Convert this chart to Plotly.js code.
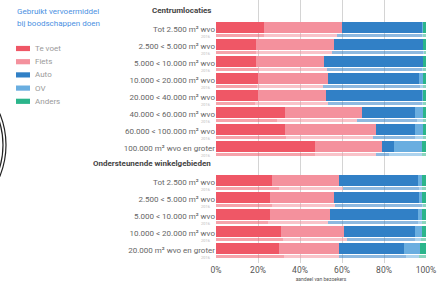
<!DOCTYPE html>
<html>
<head>
<meta charset="utf-8">
<script src="https://cdn.plot.ly/plotly-3.0.1.min.js"></script>
<style>
html,body{margin:0;padding:0;background:#fff;}
#chart{width:442px;height:286px;}
</style>
</head>
<body>
<div id="chart"></div>
<script>
// ---- data ----
var groupHeaders = ["Centrumlocaties", "Ondersteunende winkelgebieden"];
var labelsCentrum = ["Tot 2.500 m² wvo", "2.500 < 5.000 m² wvo", "5.000 < 10.000 m² wvo", "10.000 < 20.000 m² wvo",
  "20.000 < 40.000 m² wvo", "40.000 < 60.000 m² wvo", "60.000 < 100.000 m² wvo", "100.000 m² wvo en groter"];
var labelsOnder = ["Tot 2.500 m² wvo", "2.500 < 5.000 m² wvo", "5.000 < 10.000 m² wvo", "10.000 < 20.000 m² wvo",
  "20.000 m² wvo en groter"];
var modes = ["Te voet", "Fiets", "Auto", "OV", "Anders"];
var compareYear = "2016";
var xTicks = [0, 20, 40, 60, 80, 100];
var xTickText = ["0%", "20%", "40%", "60%", "80%", "100%"];

// current shares (%), order: centrum rows then ondersteunende rows
var teVoet = [23, 19, 19, 20, 20, 32.7, 32.7, 47, 26.8, 25.7, 25.7, 31, 30];
var fiets  = [37, 37.3, 32.3, 33.3, 32.4, 36.7, 43.5, 32, 31.6, 30.6, 28.6, 30.1, 28.4];
var auto   = [38, 42.1, 47.1, 43.5, 45.5, 25.4, 18.6, 5.9, 37.6, 40.5, 41.7, 33.7, 31.3];
var ov     = [0.8, 0.3, 0.3, 1.6, 0.8, 3.6, 3.6, 13, 2, 1.2, 2, 3.2, 7.4];
var anders = [1.2, 1.3, 1.3, 1.6, 1.3, 1.6, 1.6, 2.1, 2, 2, 2, 2, 2.9];

// 2016 shares (%)
var teVoet2016 = [23, 19, 19.8, 19.4, 18.6, 28.9, 33.1, 47, 30.2, 26.5, 24.6, 31.7, 32.4];
var fiets2016  = [34.5, 36.4, 32.9, 31.6, 34.6, 38.1, 41.8, 29.2, 30.4, 30.2, 28.6, 30.5, 26.3];
var auto2016   = [40.4, 43.3, 45.3, 46, 45, 28.6, 19.9, 6.3, 36.2, 41.2, 43.1, 32.6, 31.9];
var ov2016     = [0.8, 0.3, 0.7, 1.4, 0.5, 2.8, 3.6, 15.5, 1.4, 0.5, 1.7, 3, 5.9];
var anders2016 = [1.3, 1.0, 1.3, 1.6, 1.3, 1.6, 1.6, 2.0, 1.8, 1.6, 2.0, 2.2, 3.5];

// ---- layout helpers ----
var colors = ["#ef5766", "#f4919d", "#3180c6", "#6aaee0", "#2bb58b"];
var W = 442, H = 286, L = 216, R = 426, T = 0, B = 263;
function px(x){ return (x - L) / (R - L); }
function py(y){ return 1 - (y - T) / (B - T); }
var PITCH = 17, START = 10.8;
function slotY(s){ return START + s * PITCH; }

var labels = labelsCentrum.concat(labelsOnder);
var slots = [];
labelsCentrum.forEach(function(_, i){ slots.push(1 + i); });
labelsOnder.forEach(function(_, i){ slots.push(labelsCentrum.length + 2 + i); });
var yMain = slots.map(slotY);
var yThin = yMain.map(function(v){ return v + 7.6; });

var cur = [teVoet, fiets, auto, ov, anders];
var old = [teVoet2016, fiets2016, auto2016, ov2016, anders2016];
var traces = [];
modes.forEach(function(m, k){
  traces.push({type:"bar", orientation:"h", name:m, x:cur[k], y:yMain, width:11,
    marker:{color:colors[k], line:{width:0}}, showlegend:false, hoverinfo:"x+name"});
});
modes.forEach(function(m, k){
  traces.push({type:"bar", orientation:"h", name:m + " " + compareYear, x:old[k], y:yThin, width:2.2,
    marker:{color:colors[k], opacity:0.55, line:{width:0}}, showlegend:false, hoverinfo:"x+name"});
});

var annotations = [];
var shapes = [];
// group headers
[0, labelsCentrum.length + 1].forEach(function(s, i){
  annotations.push({xref:"paper", yref:"y", x:0, y:slotY(s), xanchor:"right", yanchor:"middle", xshift:-3,
    text:"<b>" + groupHeaders[i] + "</b>", showarrow:false, font:{family:"Roboto", size:8, color:"#444"}});
});
// year labels
yThin.forEach(function(y){
  annotations.push({xref:"paper", yref:"y", x:0, y:y + 0.6, xanchor:"right", yanchor:"middle", xshift:-3,
    text:compareYear, showarrow:false, font:{family:"Roboto", size:4, color:"#bbb"}});
});
// custom legend
annotations.push({xref:"paper", yref:"paper", x:px(15), y:py(11), xanchor:"left", yanchor:"middle",
  text:"Gebruikt vervoermiddel", showarrow:false, font:{family:"Roboto", size:8, color:"#4a90e2"}});
annotations.push({xref:"paper", yref:"paper", x:px(15), y:py(23.5), xanchor:"left", yanchor:"middle",
  text:"bij boodschappen doen", showarrow:false, font:{family:"Roboto", size:8, color:"#4a90e2"}});
modes.forEach(function(m, k){
  var yc = 48.5 + k * 13.2;
  shapes.push({type:"rect", xref:"paper", yref:"paper", x0:px(16), x1:px(30), y0:py(yc - 2.6), y1:py(yc + 2.6),
    fillcolor:colors[k], line:{width:0}});
  annotations.push({xref:"paper", yref:"paper", x:px(33), y:py(yc), xanchor:"left", yanchor:"middle",
    text:m, showarrow:false, font:{family:"Roboto", size:8, color:"#9a9a9a"}});
});
// decorative arc on the left edge
[{r:82, c:-76}, {r:79, c:-76}].forEach(function(o){
  shapes.push({type:"circle", xref:"paper", yref:"paper", x0:px(o.c - o.r), x1:px(o.c + o.r),
    y0:py(145 + o.r), y1:py(145 - o.r), line:{color:"#222", width:1.2}, fillcolor:"rgba(0,0,0,0)"});
});

var layout = {
  width:W, height:H, margin:{l:L, r:W - R, t:T, b:H - B}, paper_bgcolor:"#fff", plot_bgcolor:"#fff",
  barmode:"stack", bargap:0, showlegend:false,
  font:{family:"Roboto", color:"#555"},
  xaxis:{range:[0, 100], tickvals:xTicks, ticktext:xTickText, showgrid:true, gridcolor:"#d4d4d4", gridwidth:1,
    zeroline:false, showline:false, ticks:"", tickfont:{size:8.5, color:"#555"}, fixedrange:true,
    title:{text:"aandeel van bezoekers", font:{size:5, color:"#555"}, standoff:3}},
  yaxis:{range:[B, T], tickvals:yMain.map(function(v){ return v + 1.2; }), ticktext:labels, showgrid:false, zeroline:false,
    showline:false, ticks:"", tickfont:{size:8, color:"#666"}, ticklabelstandoff:0, fixedrange:true},
  annotations:annotations, shapes:shapes
};
Plotly.newPlot("chart", traces, layout, {displayModeBar:false, staticPlot:true});
</script>
</body>
</html>
